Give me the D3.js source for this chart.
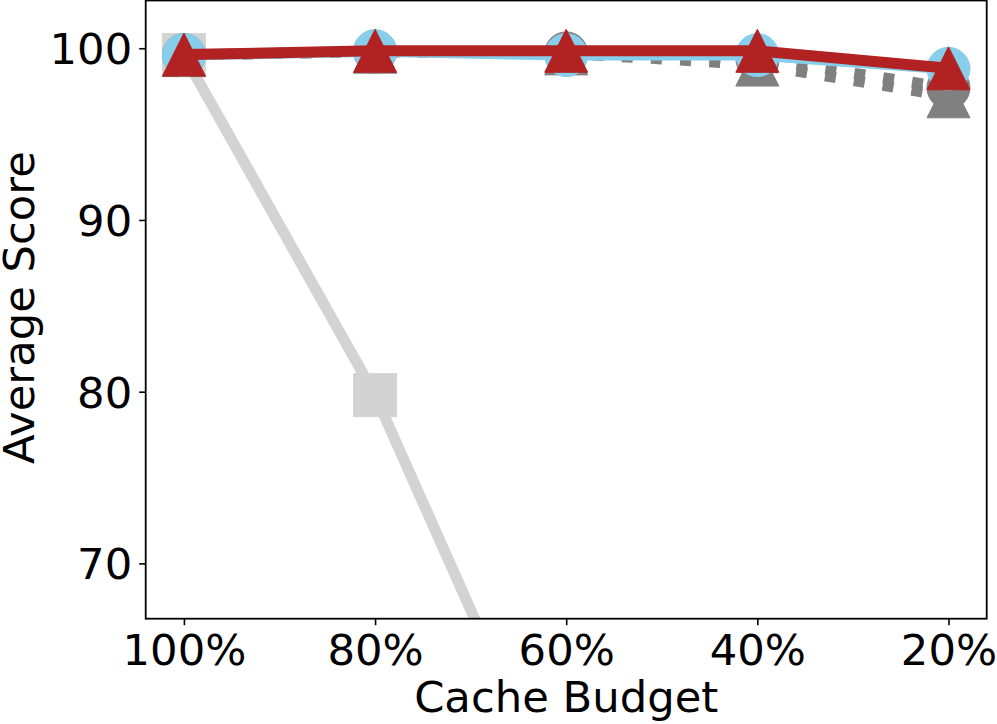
<!DOCTYPE html>
<html>
<head>
<meta charset="utf-8">
<script src="https://cdn.jsdelivr.net/npm/d3@7"></script>
<style>
  html, body { margin: 0; padding: 0; background: #fff; }
  svg { display: block; }
  text { font-family: "DejaVu Sans", sans-serif; fill: #000; }
</style>
</head>
<body>
<div id="chart"></div>
<script>
// ---- data ----
const categories = ["100%", "80%", "60%", "40%", "20%"];
const yTicks = [70, 80, 90, 100];
const lightSquare = [99.6, 79.8, 54.8, 30.0, 8.0];      // lightgray, squares, solid
const grayCircle  = [99.6, 99.8, 99.7, 99.4, 97.7];      // gray, circles, dotted
const grayTriangle = [99.6, 99.8, 99.7, 99.05, 97.2];    // gray, triangles, dotted
const blueCircle  = [99.6, 99.83, 99.6, 99.6, 98.8];     // skyblue, circles, solid
const redTriangle = [99.63, 99.85, 99.85, 99.85, 98.83]; // firebrick, triangles, solid
const xLabel = "Cache Budget";
const yLabel = "Average Score";

const series = [
  { values: lightSquare, color: "#d3d3d3", marker: "square", dash: null },
  { values: grayCircle, color: "#808080", marker: "circle", dash: "11,18.2" },
  { values: grayTriangle, color: "#808080", marker: "triangle", dash: "11,18.2" },
  { values: blueCircle, color: "#87ceeb", marker: "circle", dash: null },
  { values: redTriangle, color: "#b22222", marker: "triangle", dash: null }
];

// ---- layout ----
const W = 997, H = 724;
const L = 145.7, R = 986.7, T = 0.5, B = 618.7;
const FS = 43.3;
const LW = 11;
const MS = 43;

const svg = d3.select("#chart").append("svg").attr("width", W).attr("height", H);

const x = d3.scalePoint().domain(categories).range([L, R]).padding(0.2);
const y = d3.scaleLinear().domain([66.78, 102.78]).range([B, T]);

svg.append("defs").append("clipPath").attr("id", "clip")
  .append("rect").attr("x", L).attr("y", T).attr("width", R - L).attr("height", B - T);

const plot = svg.append("g").attr("clip-path", "url(#clip)");

const line = d3.line().x((d, i) => x(categories[i])).y(d => y(d));

function triPath(cx, cy, s) {
  const h = s / 2;
  return `M${cx},${cy - h}L${cx - h},${cy + h}L${cx + h},${cy + h}Z`;
}

series.forEach(s => {
  const g = plot.append("g");
  g.append("path")
    .attr("d", line(s.values))
    .attr("fill", "none")
    .attr("stroke", s.color)
    .attr("stroke-width", LW)
    .attr("stroke-linejoin", "round")
    .attr("stroke-linecap", s.dash ? "butt" : "square")
    .attr("stroke-dasharray", s.dash);
  s.values.forEach((v, i) => {
    const cx = x(categories[i]), cy = y(v);
    let m;
    if (s.marker === "square") {
      m = g.append("rect").attr("x", cx - MS / 2).attr("y", cy - MS / 2).attr("width", MS).attr("height", MS);
    } else if (s.marker === "circle") {
      m = g.append("circle").attr("cx", cx).attr("cy", cy).attr("r", MS / 2);
    } else {
      m = g.append("path").attr("d", triPath(cx, cy, MS));
    }
    m.attr("fill", s.color).attr("stroke", s.color).attr("stroke-width", 1).attr("stroke-linejoin", "miter");
  });
});

// ---- axes ----
const yAxis = d3.axisLeft(y).tickValues(yTicks).tickSize(6.5).tickPadding(7);
const gy = svg.append("g").attr("transform", `translate(${L},0)`).call(yAxis);
gy.select(".domain").remove();
gy.selectAll(".tick line").attr("stroke", "#000").attr("stroke-width", 1.6);
gy.selectAll(".tick text").attr("font-size", FS).attr("font-family", "DejaVu Sans").attr("dy", "0.36em");

const xAxis = d3.axisBottom(x).tickSize(6.5).tickPadding(9.1);
const gx = svg.append("g").attr("transform", `translate(0,${B})`).call(xAxis);
gx.select(".domain").remove();
gx.selectAll(".tick line").attr("stroke", "#000").attr("stroke-width", 1.6);
gx.selectAll(".tick text").attr("font-size", FS).attr("font-family", "DejaVu Sans");

// spines
svg.append("rect").attr("x", L).attr("y", T).attr("width", R - L).attr("height", B - T)
  .attr("fill", "none").attr("stroke", "#000").attr("stroke-width", 1.8);

// labels
svg.append("text").attr("x", (L + R) / 2).attr("y", 712).attr("text-anchor", "middle")
  .attr("font-size", FS).text(xLabel);
svg.append("text").attr("transform", `translate(34,${(T + B) / 2 - 2}) rotate(-90)`)
  .attr("text-anchor", "middle").attr("font-size", FS).text(yLabel);
</script>
</body>
</html>
